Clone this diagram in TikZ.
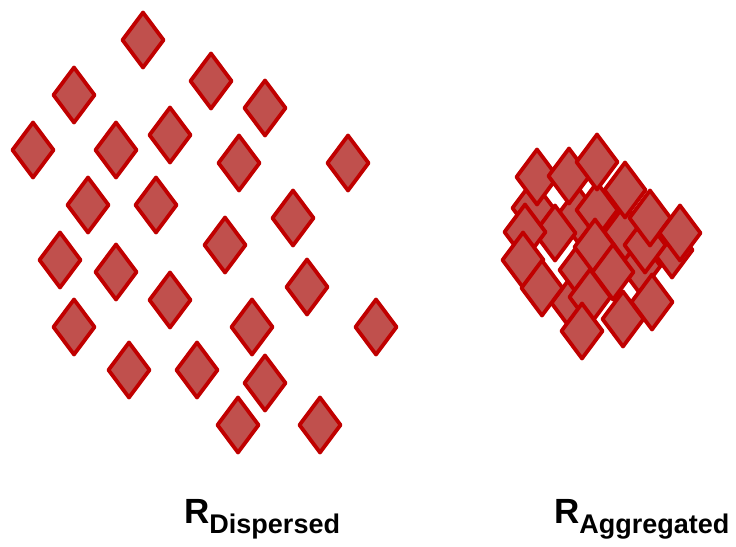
\documentclass[tikz,border=0pt]{standalone}
\usepackage{fontspec}
\setmainfont{Liberation Sans}
\definecolor{dfill}{HTML}{C0504D}
\definecolor{dline}{HTML}{C00000}
\begin{document}
\begin{tikzpicture}[x=1pt,y=-1pt,
  dia/.style={fill=dfill,draw=dline,line width=3.8pt,line join=round}]
\useasboundingbox (0,0) rectangle (736,546);
% dispersed
\foreach \x/\y in {143/40,74/95,211/81,265/108,33/150,116/150,170/135,239/163,348/163,
  88/205,156/205,293/218,60/260,116/272,225/245,307/287,170/300,74/327,252/327,376/327,
  129/370,197/370,265/383,238/425,320/425}
  \draw[dia] (\x,\y) +(0,-27.5) -- +(20.5,0) -- +(0,27.5) -- +(-20.5,0) -- cycle;
% aggregated
\foreach \x/\y in {588/227,578/215,533/208,572/303,672/250,640/266,580/270,625/232,597/210,
  555/233,525/232,523/260,595/247,613/272,542/288,590/297,645/245,
  537/177,569/176,597/162,625/190,650/218,680/233,652/302,623/319,582/331}
  \draw[dia] (\x,\y) +(0,-27.5) -- +(20.5,0) -- +(0,27.5) -- +(-20.5,0) -- cycle;
\node[anchor=base west,inner sep=0pt] (rdisp) at (184,523)
  {\fontsize{35}{40}\selectfont\bfseries R\raisebox{-10pt}{\fontsize{27}{30}\selectfont\bfseries Dispersed}};
\node[anchor=base west,inner sep=0pt] (raggr) at (554,523)
  {\fontsize{35}{40}\selectfont\bfseries R\raisebox{-10pt}{\fontsize{27}{30}\selectfont\bfseries Aggregated}};
\end{tikzpicture}
\end{document}
